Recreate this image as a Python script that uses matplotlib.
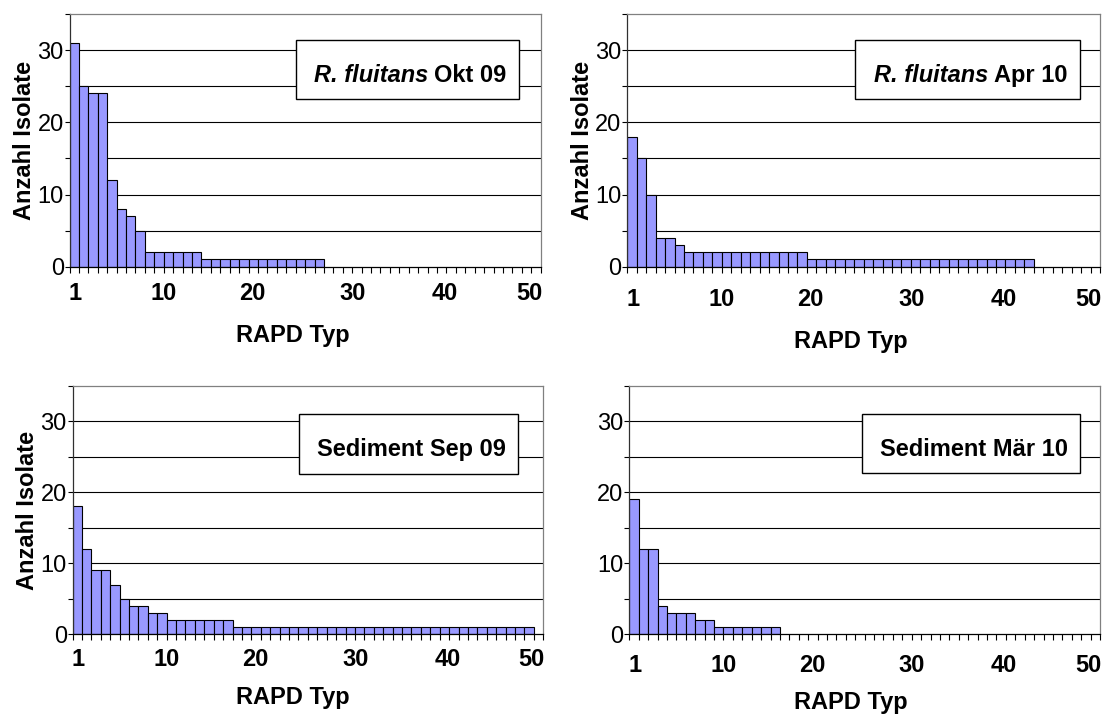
"""
Four panels: number of isolates per RAPD type (R. fluitans / sediment samples).
Writes out.png (1104 x 718 px).
"""
import matplotlib

matplotlib.use("Agg")
import matplotlib.pyplot as plt
import matplotlib.transforms as mtransforms
from matplotlib.patches import Rectangle

W, H = 1104, 718

plt.rcParams["font.family"] = ["Liberation Sans", "DejaVu Sans"]

TYPES = list(range(1, 51))
XTICK_VALUES = [1, 10, 20, 30, 40, 50]
YTICK_VALUES = [0, 5, 10, 15, 20, 25, 30, 35]
YTICK_LABELS = ["0", "", "10", "", "20", "", "30", ""]

OKT09 = [31, 25, 24, 24, 12, 8, 7, 5,
         2, 2, 2, 2, 2, 2,
         1, 1, 1, 1, 1, 1, 1, 1, 1, 1, 1, 1, 1]
APR10 = [18, 15, 10, 4, 4, 3,
         2, 2, 2, 2, 2, 2, 2, 2, 2, 2, 2, 2, 2,
         1, 1, 1, 1, 1, 1, 1, 1, 1, 1, 1, 1, 1, 1, 1, 1, 1, 1, 1, 1, 1, 1, 1, 1]
SEP09 = [18, 12, 9, 9, 7, 5, 4, 4, 3, 3,
         2, 2, 2, 2, 2, 2, 2,
         1, 1, 1, 1, 1, 1, 1, 1, 1, 1, 1, 1, 1, 1, 1, 1,
         1, 1, 1, 1, 1, 1, 1, 1, 1, 1, 1, 1, 1, 1, 1, 1]
MAR10 = [19, 12, 12, 4, 3, 3, 3, 2, 2,
         1, 1, 1, 1, 1, 1, 1]

SPECIES = ["R. fluitans", "R. fluitans", None, None]
LABELS = ["Okt 09", "Apr 10", "Sediment Sep 09", "Sediment Mär 10"]

# small horizontal nudges (px) of the x tick labels, as placed in the original
XTICK_SHIFT_PX = [1, 5, -1, 5, 3, -7]

# layout in image pixels (x0, y0, x1, y1), y measured from the top
PANELS = [
    dict(axes=(69.5, 14, 540.7, 266.7), box=(296, 40, 519.3, 99.3), tx=506.7, ty=81.7,
         xl=(292.5, 341.7), xpad=11.2, ylabel=True),
    dict(axes=(627.3, 14, 1100, 266.7), box=(855, 40, 1080, 99.3), tx=1068, ty=81.7,
         xl=(850.6, 347.7), xpad=15.5, ylabel=True),
    dict(axes=(72.5, 385.7, 543.3, 634.4), box=(299.3, 414, 518.3, 474), tx=506, ty=455.7,
         xl=(292.5, 704), xpad=9.7, ylabel=True),
    dict(axes=(629.3, 385.7, 1100, 634.4), box=(862.3, 414, 1080, 473.3), tx=1068.3, ty=455.7,
         xl=(851, 708.5), xpad=14.0, ylabel=False),
]


def draw_panel(fig, px, spec, counts, species, label):
    x0, y0, x1, y1 = spec["axes"]
    ax = fig.add_axes([x0 / W, 1 - y1 / H, (x1 - x0) / W, (y1 - y0) / H])
    ax.bar(TYPES[:len(counts)], counts, width=1.0, color="#9999FF",
           edgecolor="black", linewidth=0.8)

    ax.set_yticks(YTICK_VALUES)
    ax.set_yticklabels(YTICK_LABELS)
    ax.set_xticks(XTICK_VALUES)
    ax.set_xticklabels([str(v) for v in XTICK_VALUES], fontweight="bold")
    ax.set_xticks([t - 0.5 for t in TYPES] + [50.5], minor=True)
    ax.tick_params(axis="x", which="major", length=0, pad=spec["xpad"], labelsize=17)
    ax.tick_params(axis="x", which="minor", length=4.3, width=0.8, direction="out")
    ax.tick_params(axis="y", length=3.6, width=0.8, pad=0.5, labelsize=17)
    for lab, dx in zip(ax.get_xticklabels(), XTICK_SHIFT_PX):
        lab.set_transform(lab.get_transform()
                          + mtransforms.ScaledTranslation(dx / 100, 0, fig.dpi_scale_trans))

    ax.grid(axis="y", color="black", linewidth=0.8)
    ax.set_axisbelow(True)
    gls = ax.get_ygridlines()
    gls[0].set_visible(False)
    gls[-1].set_visible(False)

    for side in ("top", "right"):
        ax.spines[side].set_color("#808080")
    ax.spines["left"].set_color("#303030")
    for spine in ax.spines.values():
        spine.set_linewidth(0.9)

    bx0, by0, bx1, by1 = spec["box"]
    ax.add_patch(Rectangle((bx0, by0), bx1 - bx0, by1 - by0, transform=px,
                           facecolor="white", edgecolor="black", linewidth=1.0,
                           clip_on=False, zorder=5))
    t_main = ax.text(spec["tx"], spec["ty"], label, transform=px, ha="right",
                     va="baseline", fontsize=17, fontweight="bold", zorder=6)
    if species:
        ax.annotate(species, xy=(0, 0), xycoords=t_main, xytext=(-6.5, 0),
                    textcoords="offset pixels", ha="right", va="bottom",
                    fontsize=17, fontweight="bold", fontstyle="italic", zorder=6)

    ax.text(spec["xl"][0], spec["xl"][1], "RAPD Typ", transform=px, ha="center",
            va="baseline", fontsize=17, fontweight="bold")
    if spec["ylabel"]:
        ax.text(x0 - 44.5, (y0 + y1) / 2, "Anzahl Isolate", transform=px,
                rotation=90, ha="center", va="center", fontsize=17, fontweight="bold")

    ax.set_xlim(0.5, 50.5)
    ax.set_ylim(0, 35)
    return ax


def main():
    fig = plt.figure(figsize=(W / 100, H / 100), dpi=100)
    px = mtransforms.Affine2D().scale(1 / W, -1 / H).translate(0, 1) + fig.transFigure
    for spec, counts, species, label in zip(PANELS, [OKT09, APR10, SEP09, MAR10],
                                            SPECIES, LABELS):
        draw_panel(fig, px, spec, counts, species, label)
    fig.savefig("out.png", dpi=100)
    plt.close(fig)


if __name__ == "__main__":
    main()
